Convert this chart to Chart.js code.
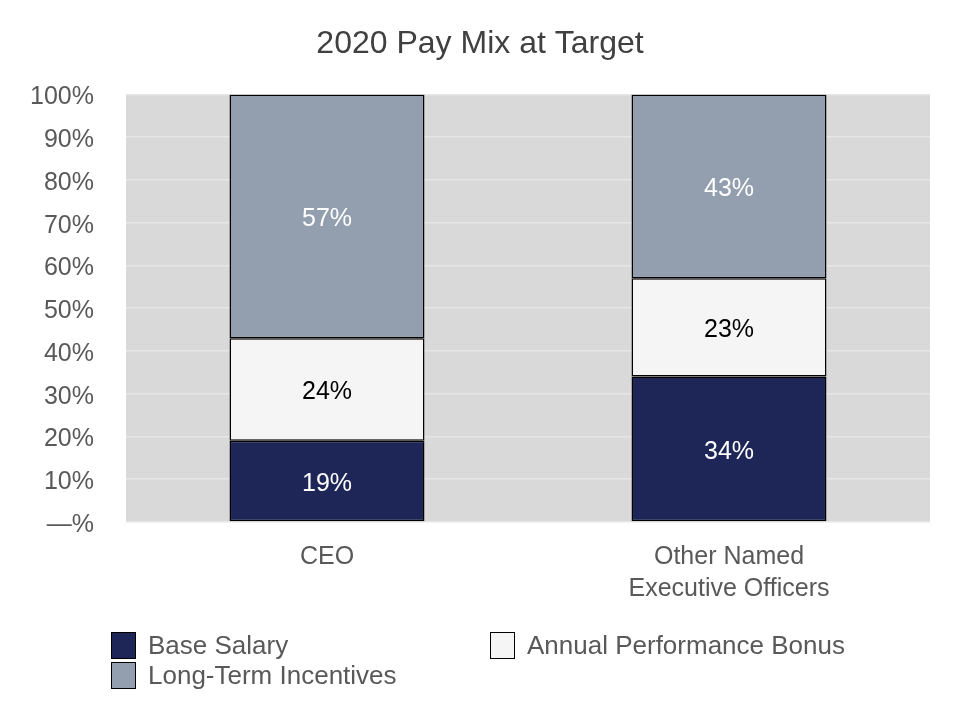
<!DOCTYPE html>
<html>
<head>
<meta charset="utf-8">
<script src="https://cdn.jsdelivr.net/npm/chart.js@4.4.0/dist/chart.umd.min.js"></script>
<style>
  body { margin: 0; background: #fff; }
  #wrap { position: relative; width: 960px; height: 720px; }
  #legend { position: absolute; left: 0; top: 0; font-family: "Liberation Sans", Arial, sans-serif; font-size: 26px; color: #595959; }
  .item { position: absolute; display: flex; align-items: center; white-space: nowrap; }
  .box { width: 23px; height: 25px; border: 1.5px solid #000; margin-right: 12px; }
</style>
</head>
<body>
<div id="wrap">
  <canvas id="chart" width="960" height="720"></canvas>
  <div id="legend"></div>
</div>
<script>
const categories = [['CEO'], ['Other Named', 'Executive Officers']];
const seriesNames = ['Base Salary', 'Annual Performance Bonus', 'Long-Term Incentives'];
const baseSalary = [19, 34];
const annualBonus = [24, 23];
const longTerm = [57, 43];
const tickLabels = ['—%', '10%', '20%', '30%', '40%', '50%', '60%', '70%', '80%', '90%', '100%'];

const colors = ['#1e2657', '#f5f5f5', '#939fae'];
const labelColors = ['#ffffff', '#000000', '#ffffff'];
const FONT = '"Liberation Sans", Arial, sans-serif';

const plotBg = {
  id: 'plotBg',
  beforeDraw(chart) {
    const { ctx, chartArea: a } = chart;
    ctx.save();
    ctx.fillStyle = '#d9d9d9';
    ctx.fillRect(a.left, a.top, a.right - a.left, a.bottom - a.top);
    ctx.restore();
  }
};

const barLabels = {
  id: 'barLabels',
  afterDatasetsDraw(chart) {
    const ctx = chart.ctx;
    ctx.save();
    ctx.font = '25px ' + FONT;
    ctx.textAlign = 'center';
    ctx.textBaseline = 'middle';
    chart.data.datasets.forEach((ds, i) => {
      chart.getDatasetMeta(i).data.forEach((bar, j) => {
        const { x, y, base } = bar.getProps(['x', 'y', 'base'], true);
        ctx.fillStyle = labelColors[i];
        ctx.fillText(ds.data[j] + '%', x, (y + base) / 2 + 3);
      });
    });
    ctx.restore();
  }
};

const datasets = [baseSalary, annualBonus, longTerm].map((d, i) => ({
  label: seriesNames[i],
  data: d,
  backgroundColor: colors[i],
  borderColor: '#000000',
  borderWidth: 1.5,
  borderSkipped: false,
  categoryPercentage: 1,
  barPercentage: 0.485
}));

new Chart(document.getElementById('chart').getContext('2d'), {
  type: 'bar',
  data: { labels: categories, datasets },
  options: {
    responsive: false,
    animation: false,
    layout: { padding: { left: 30, right: 30, top: 0, bottom: 0 } },
    plugins: {
      legend: { display: false },
      tooltip: { enabled: false },
      title: {
        display: true,
        text: '2020 Pay Mix at Target',
        color: '#404040',
        font: { family: FONT, size: 32, weight: 'normal', lineHeight: 1.2 },
        padding: { top: 25, bottom: 31 }
      }
    },
    scales: {
      x: {
        stacked: true,
        grid: { display: false, drawTicks: false },
        border: { display: false },
        ticks: { color: '#595959', font: { family: FONT, size: 25, lineHeight: 1.28 }, padding: 19 },
        afterFit(scale) { scale.height = 198; }
      },
      y: {
        stacked: true,
        min: 0,
        max: 100,
        grid: { color: '#e6e6e6', lineWidth: 1.5, drawTicks: false },
        border: { display: false },
        ticks: {
          stepSize: 10,
          color: '#595959',
          font: { family: FONT, size: 25 },
          padding: 32,
          labelOffset: 3,
          callback: (v, i) => tickLabels[i]
        },
        afterFit(scale) { scale.width = 96; }
      }
    }
  },
  plugins: [plotBg, barLabels]
});

const legendPos = [[111, 630], [490, 630], [111, 660]];
const legend = document.getElementById('legend');
seriesNames.forEach((name, i) => {
  const el = document.createElement('div');
  el.className = 'item';
  el.style.left = legendPos[i][0] + 'px';
  el.style.top = legendPos[i][1] + 'px';
  el.innerHTML = '<span class="box" style="background:' + colors[i] + '"></span><span>' + name + '</span>';
  legend.appendChild(el);
});
</script>
</body>
</html>
